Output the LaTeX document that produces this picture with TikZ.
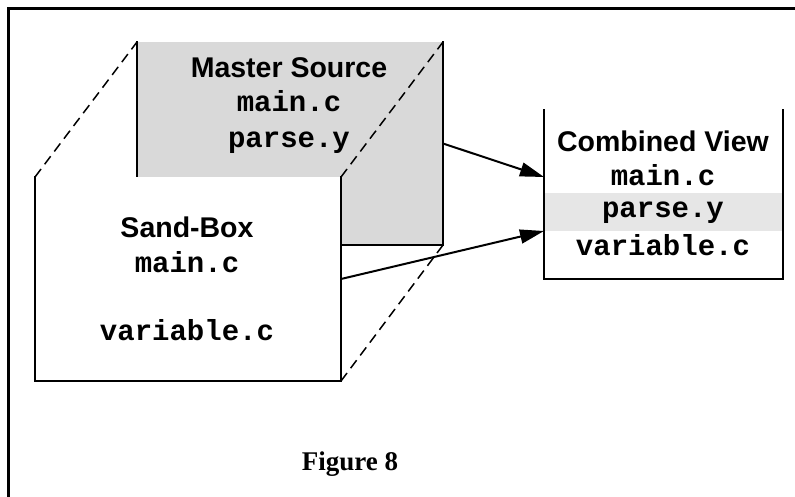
\documentclass[tikz,border=0pt]{standalone}
\usepackage{fontspec}
\setmainfont{Liberation Serif}
\setsansfont{Liberation Sans}
\setmonofont{Liberation Mono}
\usetikzlibrary{arrows.meta}
\definecolor{mastergray}{HTML}{D9D9D9}
\definecolor{stripgray}{HTML}{E6E6E6}
\tikzset{
  boxline/.style={line width=2pt, line cap=rect},
  dashline/.style={line width=1.5pt, dash pattern=on 10pt off 6pt},
  conn/.style={line width=2pt, -{Triangle[length=24pt,width=14pt]}},
  title/.style={font=\sffamily\bfseries\fontsize{28.5}{34}\selectfont, inner sep=0pt, anchor=base},
  fname/.style={font=\ttfamily\bfseries\fontsize{29}{34}\selectfont, inner sep=0pt, anchor=base},
  caption/.style={font=\rmfamily\bfseries\fontsize{27}{32}\selectfont, inner sep=0pt, anchor=base},
  area/.style={inner sep=0pt, outer sep=0pt, anchor=north west}
}
\begin{document}
\begin{tikzpicture}[x=1pt, y=-1pt]
\useasboundingbox (0,0) rectangle (795,497);
% outer frame (top and left edges)
\draw[line width=3pt] (8.5,497) -- (8.5,8.5) -- (795,8.5);

% master source
\node[area, fill=mastergray, minimum width=306pt, minimum height=203pt] (master) at (137,42) {};
\draw[boxline] (master.north west) -- (master.south west) -- (master.south east) -- (master.north east);
\node[title] (mtitle) at (289,78) {Master Source};
\node[fname] (mmain) at (289,112) {main.c};
\node[fname] (mparse) at (289,148) {parse.y};

% sand-box
\node[area, fill=white, minimum width=306pt, minimum height=204pt] (sand) at (35,177) {};
\draw[boxline] (sand.north west) -- (sand.south west) -- (sand.south east) -- (sand.north east);
\node[title] (stitle) at (187,237) {Sand-Box};
\node[fname] (smain) at (187,272) {main.c};
\node[fname] (svar) at (187,340) {variable.c};

% dashed perspective lines
\draw[dashline] (sand.north west) -- (master.north west);
\draw[dashline] (sand.north east) -- (master.north east);
\draw[dashline] (sand.south east) -- (master.south east);

% combined view
\node[area, minimum width=239pt, minimum height=169pt] (comb) at (544,110) {};
\node[area, fill=stripgray, minimum width=239pt, minimum height=38pt] (strip) at (544,193) {};
\draw[boxline] (comb.north west) -- (comb.south west) -- (comb.south east) -- (comb.north east);
\node[title] (ctitle) at (663,152) {Combined View};
\node[fname] (cmain) at (663,186) {main.c};
\node[fname] (cparse) at (663,218) {parse.y};
\node[fname] (cvar) at (663,255) {variable.c};

% connectors
\coordinate (cin1) at ([yshift=-67pt]comb.north west);
\coordinate (cin2) at (strip.south west);
\draw[conn] (master.east) -- (cin1);
\draw[conn] (sand.east) -- (cin2);

% caption
\node[caption] (fig) at (350,470) {Figure 8};
\end{tikzpicture}
\end{document}
